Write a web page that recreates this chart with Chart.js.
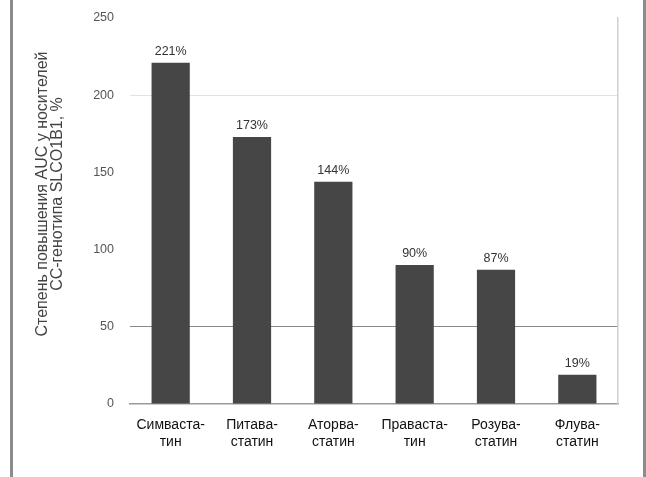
<!DOCTYPE html>
<html>
<head>
<meta charset="utf-8">
<script src="https://cdn.jsdelivr.net/npm/chart.js@4"></script>
<style>
  html, body { margin: 0; padding: 0; background: #fff; }
  #wrap { position: relative; width: 646px; height: 477px; }
  #wrap::before, #wrap::after {
    content: ""; position: absolute; top: 0; bottom: 0; width: 3px; background: #8c8c8c;
  }
  #wrap::before { left: 10px; }
  #wrap::after { left: 643px; }
</style>
</head>
<body>
<div id="wrap"><canvas id="statins" width="646" height="477"></canvas></div>
<script>
  // statins and the AUC rise in SLCO1B1 CC carriers
  const drugs = [
    ["Симваста-", "тин"],
    ["Питава-", "статин"],
    ["Аторва-", "статин"],
    ["Праваста-", "тин"],
    ["Розува-", "статин"],
    ["Флува-", "статин"],
  ];
  const aucRise = [221, 173, 144, 90, 87, 19];
  const yTicks = [0, 50, 100, 150, 200, 250];
  const yTitle = ["Степень повышения AUC у носителей", "CC-генотипа SLCO1B1, %"];

  const FONT = "'Liberation Sans', Arial, sans-serif";

  // percent labels over each bar
  const barLabels = {
    id: "barLabels",
    afterDatasetsDraw(chart) {
      const ctx = chart.ctx;
      const meta = chart.getDatasetMeta(0);
      ctx.save();
      ctx.font = "12.5px " + FONT;
      ctx.fillStyle = "#333";
      ctx.textAlign = "center";
      ctx.textBaseline = "bottom";
      meta.data.forEach((bar, i) => {
        ctx.fillText(aucRise[i] + "%", bar.x, bar.y - 5);
      });
      ctx.restore();
    },
  };

  // two-line rotated title left of the value axis
  const axisTitle = {
    id: "axisTitle",
    afterDraw(chart) {
      const ctx = chart.ctx;
      ctx.save();
      ctx.translate(43, 194);
      ctx.rotate(-Math.PI / 2);
      ctx.font = "16px " + FONT;
      ctx.fillStyle = "#444";
      ctx.textAlign = "center";
      ctx.textBaseline = "middle";
      yTitle.forEach((line, i) => ctx.fillText(line, 0, i * 15));
      ctx.restore();
    },
  };

  const ctx = document.getElementById("statins").getContext("2d");
  new Chart(ctx, {
    type: "bar",
    data: {
      labels: drugs,
      datasets: [
        {
          data: aucRise,
          backgroundColor: "#464646",
          categoryPercentage: 1,
          barPercentage: 0.47,
        },
      ],
    },
    options: {
      responsive: false,
      animation: false,
      layout: { padding: { left: 28, right: 28, top: 18, bottom: 13 } },
      plugins: { legend: { display: false }, tooltip: { enabled: false } },
      scales: {
        x: {
          grid: { display: false },
          border: { color: "#9a9a9a", width: 1.5 },
          ticks: {
            color: "#111",
            font: { family: FONT, size: 14 },
            padding: 5,
            maxRotation: 0,
            autoSkip: false,
          },
          afterFit(scale) {
            scale.height = 60;
          },
        },
        y: {
          min: 0,
          max: 250,
          afterBuildTicks(scale) {
            scale.ticks = yTicks.map((v) => ({ value: v }));
          },
          grid: {
            drawTicks: false,
            color(c) {
              if (c.tick.value === 50) return "#8a8a8a";
              if (c.tick.value === 200) return "#e2e2e2";
              return "rgba(0,0,0,0)";
            },
          },
          border: { display: false },
          ticks: {
            color: "#555",
            font: { family: FONT, size: 12.5 },
            padding: 16,
          },
          afterFit(scale) {
            scale.width = 102;
            scale.paddingTop = 0;
            scale.paddingBottom = 0;
          },
        },
        yRight: {
          position: "right",
          min: 0,
          max: 250,
          grid: { display: false },
          border: { color: "#d0d0d0", width: 1.5 },
          ticks: { display: false },
          afterFit(scale) {
            scale.width = 0;
            scale.paddingTop = 0;
            scale.paddingBottom = 0;
          },
        },
      },
    },
    plugins: [barLabels, axisTitle],
  });
</script>
</body>
</html>
